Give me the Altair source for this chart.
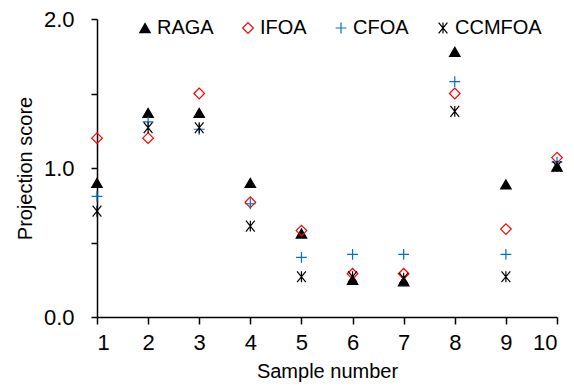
import altair as alt
import pandas as pd

samples = [1, 2, 3, 4, 5, 6, 7, 8, 9, 10]
raga = [0.90, 1.37, 1.37, 0.90, 0.56, 0.25, 0.24, 1.78, 0.89, 1.01]
ifoa = [1.20, 1.20, 1.50, 0.77, 0.58, 0.29, 0.29, 1.50, 0.59, 1.07]
cfoa = [0.81, 1.31, 1.26, 0.76, 0.40, 0.42, 0.42, 1.58, 0.42, 1.04]
ccmfoa = [0.71, 1.27, 1.27, 0.61, 0.27, 0.27, 0.26, 1.38, 0.27, 1.01]

series = ["RAGA", "IFOA", "CFOA", "CCMFOA"]
colors = ["#000000", "#FF0000", "#0070C0", "#000000"]
shapes = [
    "triangle-up",
    "diamond",
    "M-1,0L1,0M0,-1L0,1",
    "M-0.8,-1L0.8,1M-0.8,1L0.8,-1M0,-1L0,1",
]
fills = ["#000000", "transparent", "transparent", "transparent"]
sizes = [110, 120, 130, 55]
widths = [1.2, 1.2, 1.3, 2.2]

rows = []
for name, vals in zip(series, [raga, ifoa, cfoa, ccmfoa]):
    for s, v in zip(samples, vals):
        rows.append({"Sample": s, "Score": v, "Method": name})
df = pd.DataFrame(rows)

leg = alt.Legend(title=None, orient="none", direction="horizontal",
                 legendX=38, legendY=-1, labelFontSize=20,
                 columnPadding=24, labelOffset=2)

points = alt.Chart(df).mark_point(opacity=1).encode(
    x=alt.X("Sample:Q",
            scale=alt.Scale(domain=[1, 10], nice=False, zero=False),
            axis=alt.Axis(title="Sample number", values=samples, format="d",
                          grid=False, tickSize=7, labelPadding=8,
                          titlePadding=8)),
    y=alt.Y("Score:Q",
            scale=alt.Scale(domain=[0, 2], nice=False),
            axis=alt.Axis(title="Projection score", values=[0, 0.5, 1, 1.5, 2],
                          labelExpr="datum.value % 1 == 0 ? format(datum.value, '.1f') : ''",
                          grid=False, tickSize=6, labelPadding=17,
                          titlePadding=8)),
    shape=alt.Shape("Method:N", scale=alt.Scale(domain=series, range=shapes), legend=leg),
    stroke=alt.Stroke("Method:N", scale=alt.Scale(domain=series, range=colors), legend=leg),
    fill=alt.Fill("Method:N", scale=alt.Scale(domain=series, range=fills), legend=leg),
    size=alt.Size("Method:N", scale=alt.Scale(domain=series, range=sizes), legend=leg),
    strokeWidth=alt.StrokeWidth("Method:N", scale=alt.Scale(domain=series, range=widths), legend=leg),
)

chart = points.properties(
    width=460, height=298,
    autosize=alt.AutoSizeParams(type="none"),
    padding={"left": 89, "top": 11, "right": 9, "bottom": 68},
).configure_view(stroke=None).configure_axis(
    domainColor="black", domainWidth=1.5, tickColor="black", tickWidth=1.5,
    labelFont="Liberation Sans", titleFont="Liberation Sans",
    labelFontSize=22, titleFontSize=20, titleFontWeight="normal",
    labelColor="black", titleColor="black",
).configure_legend(labelFont="Liberation Sans", labelColor="black")

chart.save("out.html", embed_options={"renderer": "svg", "actions": False})
